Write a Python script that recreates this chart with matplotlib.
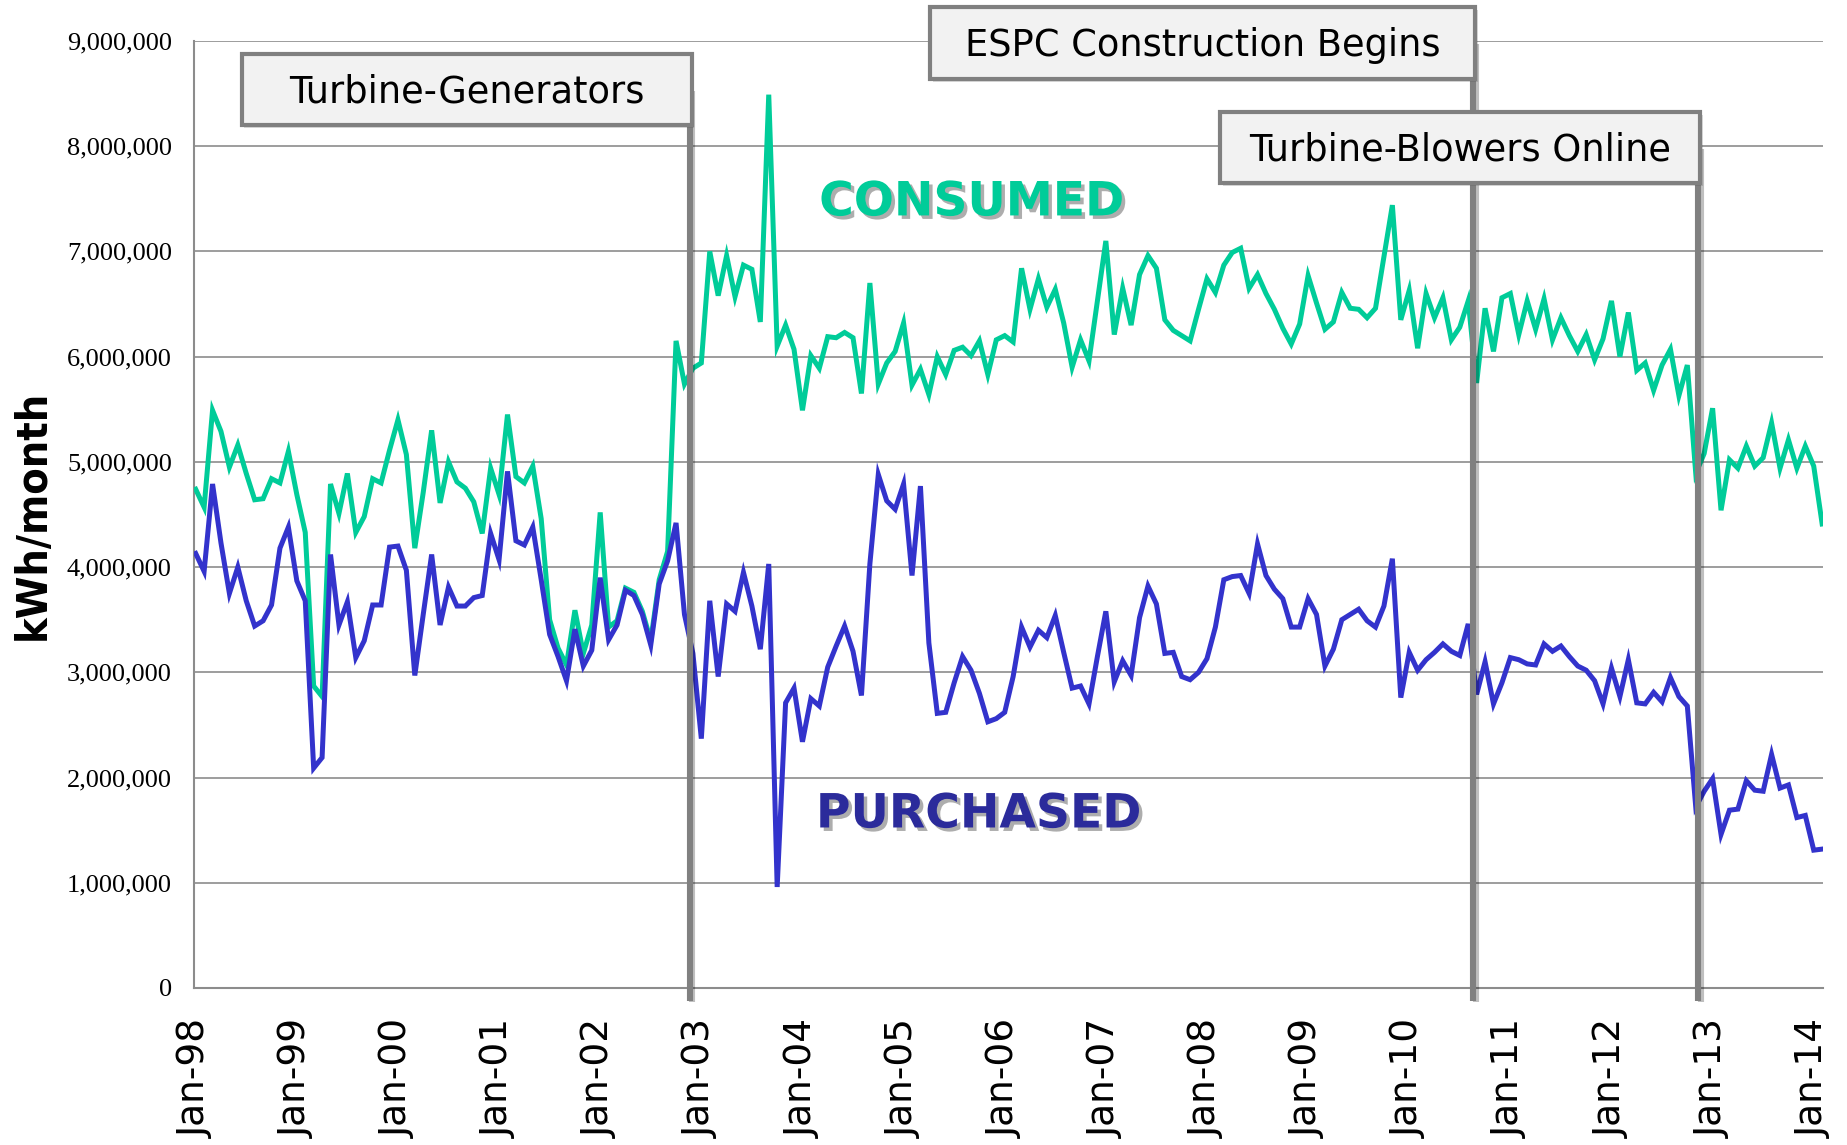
import matplotlib
matplotlib.use("Agg")
import matplotlib.pyplot as plt
import matplotlib.patheffects as pe
from matplotlib.patches import Rectangle
from matplotlib.ticker import FuncFormatter, MultipleLocator
import numpy as np

# ---------------- data (kWh/month, millions) ----------------
consumed_m = [
    4.74, 4.57, 5.49, 5.29, 4.95, 5.16, 4.89, 4.64, 4.65, 4.84, 4.80, 5.10,
    4.69, 4.33, 2.87, 2.77, 4.79, 4.51, 4.89, 4.33, 4.48, 4.84, 4.80, 5.11,
    5.40, 5.07, 4.18, 4.71, 5.30, 4.61, 5.00, 4.81, 4.75, 4.62, 4.32, 4.94,
    4.69, 5.45, 4.86, 4.80, 4.96, 4.46, 3.50, 3.23, 3.07, 3.59, 3.18, 3.45,
    4.52, 3.43, 3.49, 3.80, 3.76, 3.58, 3.30, 3.88, 4.15, 6.15, 5.74, 5.89,
    5.94, 7.00, 6.58, 6.96, 6.57, 6.87, 6.83, 6.33, 8.49, 6.10, 6.30, 6.07,
    5.49, 6.01, 5.89, 6.19, 6.18, 6.23, 6.18, 5.65, 6.70, 5.74, 5.94, 6.05,
    6.32, 5.73, 5.88, 5.64, 6.00, 5.83, 6.06, 6.09, 6.01, 6.15, 5.83, 6.16,
    6.20, 6.14, 6.84, 6.45, 6.74, 6.47, 6.64, 6.32, 5.90, 6.16, 5.96, 6.53,
    7.10, 6.21, 6.65, 6.30, 6.78, 6.96, 6.84, 6.35, 6.25, 6.20, 6.15, 6.45,
    6.74, 6.61, 6.87, 6.99, 7.03, 6.65, 6.78, 6.60, 6.45, 6.27, 6.12, 6.31,
    6.77, 6.51, 6.26, 6.33, 6.61, 6.46, 6.45, 6.37, 6.46, 6.95, 7.44, 6.35,
    6.63, 6.08, 6.60, 6.37, 6.56, 6.16, 6.28, 6.53, 5.75, 6.46, 6.05, 6.56,
    6.60, 6.21, 6.53, 6.26, 6.55, 6.16, 6.37, 6.20, 6.05, 6.21, 5.97, 6.17,
    6.53, 6.00, 6.42, 5.87, 5.94, 5.68, 5.92, 6.07, 5.63, 5.92, 4.89, 5.08,
    5.51, 4.54, 5.02, 4.94, 5.15, 4.96, 5.04, 5.37, 4.94, 5.21, 4.94, 5.15,
    4.96, 4.41,
]
purchased_m = [
    4.13, 3.96, 4.79, 4.23, 3.75, 4.00, 3.68, 3.44, 3.49, 3.64, 4.18, 4.38,
    3.87, 3.68, 2.09, 2.19, 4.12, 3.45, 3.67, 3.14, 3.30, 3.64, 3.64, 4.19,
    4.20, 3.97, 2.97, 3.55, 4.12, 3.45, 3.81, 3.63, 3.63, 3.71, 3.73, 4.32,
    4.07, 4.91, 4.25, 4.21, 4.38, 3.88, 3.36, 3.15, 2.92, 3.41, 3.06, 3.21,
    3.90, 3.31, 3.45, 3.78, 3.73, 3.55, 3.26, 3.84, 4.06, 4.42, 3.55, 3.18,
    2.37, 3.68, 2.96, 3.65, 3.58, 3.95, 3.63, 3.22, 4.03, 0.96, 2.71, 2.85,
    2.34, 2.75, 2.68, 3.05, 3.25, 3.44, 3.20, 2.78, 4.03, 4.88, 4.63, 4.55,
    4.79, 3.92, 4.77, 3.28, 2.61, 2.62, 2.90, 3.15, 3.02, 2.80, 2.53, 2.56,
    2.62, 2.96, 3.43, 3.24, 3.40, 3.33, 3.54, 3.19, 2.85, 2.87, 2.70, 3.15,
    3.58, 2.91, 3.11, 2.97, 3.52, 3.82, 3.65, 3.18, 3.19, 2.96, 2.93, 3.00,
    3.13, 3.43, 3.88, 3.91, 3.92, 3.75, 4.22, 3.92, 3.79, 3.70, 3.43, 3.43,
    3.70, 3.55, 3.06, 3.22, 3.50, 3.55, 3.60, 3.49, 3.43, 3.63, 4.08, 2.76,
    3.19, 3.02, 3.12, 3.19, 3.27, 3.20, 3.16, 3.46, 2.79, 3.10, 2.70, 2.90,
    3.14, 3.12, 3.08, 3.07, 3.27, 3.20, 3.25, 3.15, 3.06, 3.02, 2.92, 2.70,
    3.04, 2.77, 3.12, 2.71, 2.70, 2.81, 2.72, 2.95, 2.77, 2.68, 1.72, 1.87,
    1.99, 1.46, 1.69, 1.70, 1.97, 1.88, 1.87, 2.22, 1.90, 1.93, 1.62, 1.64,
    1.31, 1.32,
]
tick_labels = ["Jan-98", "Jan-99", "Jan-00", "Jan-01", "Jan-02", "Jan-03",
               "Jan-04", "Jan-05", "Jan-06", "Jan-07", "Jan-08", "Jan-09",
               "Jan-10", "Jan-11", "Jan-12", "Jan-13", "Jan-14"]
tick_months = [12 * k for k in range(len(tick_labels))]

event_labels = ["Turbine-Generators", "ESPC Construction Begins", "Turbine-Blowers Online"]
event_months = [58.6, 151.6, 178.3]   # month index (0 = Jan-98)

consumed = np.array(consumed_m) * 1e6
purchased = np.array(purchased_m) * 1e6
months = np.arange(len(consumed))

# ---------------- styling ----------------
GREEN = "#00CC99"
BLUE = "#3333CC"
BLUE_TXT = "#2B2B9B"
GRID = "#8C8C8C"
W, H = 1847, 1145

fig = plt.figure(figsize=(W / 100, H / 100), dpi=100)
ax = fig.add_axes([194 / W, 1 - 988 / H, (1823 - 194) / W, (988 - 41) / H])

ax.plot(months, consumed, color=GREEN, lw=3.6, solid_joinstyle="miter", zorder=3)
ax.plot(months, purchased, color=BLUE, lw=3.6, solid_joinstyle="miter", zorder=4)

ax.set_xlim(-0.2, 193.1)
ax.set_ylim(0, 9e6)
ax.yaxis.set_major_locator(MultipleLocator(1e6))
ax.yaxis.set_major_formatter(FuncFormatter(lambda v, p: f"{v:,.0f}"))
ax.grid(axis="y", color=GRID, lw=1.2, zorder=0)
ax.set_axisbelow(True)
ax.set_xticks(tick_months)
ax.set_xticklabels(tick_labels, rotation=90, fontsize=27, family="DejaVu Sans")
ax.tick_params(axis="x", length=0, pad=22)
ax.tick_params(axis="y", length=0, pad=16)
for lab in ax.get_yticklabels():
    lab.set_family("Liberation Serif")
    lab.set_fontsize(19)
for s in ["top", "right"]:
    ax.spines[s].set_visible(False)
for s in ["left", "bottom"]:
    ax.spines[s].set_color(GRID)
    ax.spines[s].set_linewidth(1.5)

fig.text(33 / W, 1 - 515 / H, "kWh/month", rotation=90, ha="center", va="center",
         fontsize=31, fontweight="heavy", family="DejaVu Sans", fontstretch="condensed")

ax.text(0.4776, 0.829, "CONSUMED", transform=ax.transAxes, ha="center", va="center",
        fontsize=34, fontweight="bold", color=GREEN, family="DejaVu Sans",
        path_effects=[pe.SimplePatchShadow(offset=(2.5, -2.5), shadow_rgbFace="#777777", alpha=0.6), pe.Normal()])
ax.text(0.482, 0.1827, "PURCHASED", transform=ax.transAxes, ha="center", va="center",
        fontsize=34, fontweight="bold", color=BLUE_TXT, family="DejaVu Sans",
        path_effects=[pe.SimplePatchShadow(offset=(2.5, -2.5), shadow_rgbFace="#777777", alpha=0.6), pe.Normal()])

# ---------------- event boxes and lines ----------------
box_px = [(450, 54, 125), (545, 7, 79), (480, 112, 183)]  # width, top, bottom (px from top)
inv = ax.transData.inverted()
for lab, m, (bw, top, bot) in zip(event_labels, event_months, box_px):
    xr = ax.transData.transform((m, 0))[0]
    ytop_val = inv.transform((xr, H - (top + bot) / 2))[1]
    ax.plot([m, m], [-0.12e6, ytop_val], color="#808080", lw=4.4, clip_on=False, zorder=6,
            solid_capstyle="butt",
            path_effects=[pe.SimpleLineShadow(offset=(2, -1), alpha=0.25), pe.Normal()])
    x0 = xr - bw + 2
    rect = Rectangle((x0 / W, 1 - bot / H), bw / W, (bot - top) / H, transform=fig.transFigure,
                     facecolor="#F2F2F2", edgecolor="#808080", lw=3.0, zorder=10,
                     path_effects=[pe.SimplePatchShadow(offset=(2, -2), alpha=0.2), pe.Normal()])
    fig.add_artist(rect)
    fig.text((x0 + bw / 2) / W, 1 - (top + bot) / 2 / H - 0.002, lab, ha="center", va="center",
             fontsize=26.5, family="DejaVu Sans", color="black", zorder=11)

fig.savefig("out.png", dpi=100)
